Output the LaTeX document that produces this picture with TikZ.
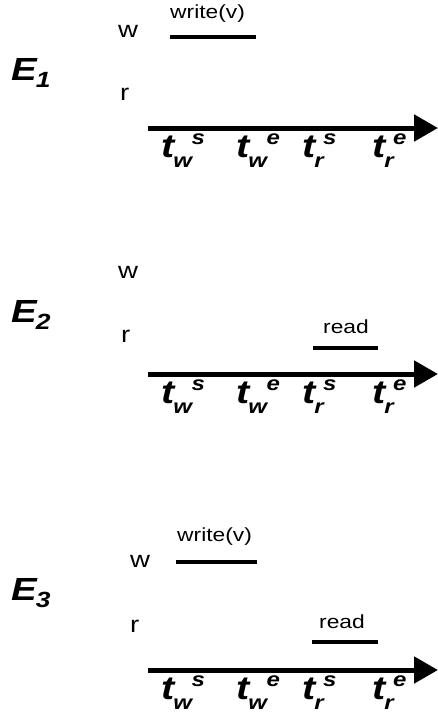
\documentclass[tikz,border=0pt]{standalone}
\usepackage{fontspec}
\setmainfont{Liberation Sans}[FakeStretch=1.2]
\usetikzlibrary{arrows.meta}
\newcommand\subfnt{\fontsize{20}{20}\selectfont\bfseries\itshape}
\newcommand\tlab[2]{t\kern-1pt\raisebox{-10pt}{\subfnt #1}\kern-0.5pt\raisebox{13pt}{\subfnt #2}}
\newcommand\elab[1]{E\kern-1pt\raisebox{-7pt}{\fontsize{22}{22}\selectfont\bfseries\itshape #1}}
\tikzset{
  proclbl/.style={inner sep=0pt, anchor=base west, font=\fontsize{23}{23}\selectfont},
  oplbl/.style={inner sep=0pt, anchor=base west, font=\fontsize{19}{19}\selectfont},
  opline/.style={line width=4pt},
  axisline/.style={line width=5pt, -{Triangle[length=24pt,width=26pt]}},
  tlbl/.style={inner sep=0pt, anchor=base west, font=\fontsize{33}{33}\selectfont\bfseries\itshape},
  elbl/.style={inner sep=0pt, anchor=base west, font=\fontsize{32}{32}\selectfont\bfseries\itshape}
}
\begin{document}
\begin{tikzpicture}[x=1pt,y=-1pt]
\useasboundingbox (0,0) rectangle (437,720);
% ---------- Panel 1 ----------
\node[elbl] (e1) at (11,80) {\elab{1}};
\node[proclbl] (w1) at (118,37) {w};
\node[proclbl] (r1) at (120,100) {r};
\node[oplbl] (wr1) at (170,18) {write(v)};
\coordinate (wl1s) at (170,37); \coordinate (wl1e) at (256,37);
\draw[opline] (wl1s) -- (wl1e);
\coordinate (ax1s) at (148,128); \coordinate (ax1e) at (438,128);
\draw[axisline] (ax1s) -- (ax1e);
\node[tlbl] (t1a) at (161,157) {\tlab{w}{s}};
\node[tlbl] (t1b) at (236,157) {\tlab{w}{e}};
\node[tlbl] (t1c) at (302,157) {\tlab{r}{s}};
\node[tlbl] (t1d) at (372,157) {\tlab{r}{e}};
% ---------- Panel 2 ----------
\node[elbl] (e2) at (11,322) {\elab{2}};
\node[proclbl] (w2) at (118,278) {w};
\node[proclbl] (r2) at (121,342) {r};
\node[oplbl] (rd2) at (323,333) {read};
\coordinate (rl2s) at (313,348); \coordinate (rl2e) at (378,348);
\draw[opline] (rl2s) -- (rl2e);
\coordinate (ax2s) at (148,374); \coordinate (ax2e) at (438,374);
\draw[axisline] (ax2s) -- (ax2e);
\node[tlbl] (t2a) at (161,403) {\tlab{w}{s}};
\node[tlbl] (t2b) at (236,403) {\tlab{w}{e}};
\node[tlbl] (t2c) at (302,403) {\tlab{r}{s}};
\node[tlbl] (t2d) at (372,403) {\tlab{r}{e}};
% ---------- Panel 3 ----------
\node[elbl] (e3) at (11,600) {\elab{3}};
\node[proclbl] (w3) at (130,567) {w};
\node[proclbl] (r3) at (130,632) {r};
\node[oplbl] (wr3) at (177,541) {write(v)};
\coordinate (wl3s) at (176,562); \coordinate (wl3e) at (257,562);
\draw[opline] (wl3s) -- (wl3e);
\node[oplbl] (rd3) at (319,628) {read};
\coordinate (rl3s) at (312,642); \coordinate (rl3e) at (378,642);
\draw[opline] (rl3s) -- (rl3e);
\coordinate (ax3s) at (148,670); \coordinate (ax3e) at (438,670);
\draw[axisline] (ax3s) -- (ax3e);
\node[tlbl] (t3a) at (161,699) {\tlab{w}{s}};
\node[tlbl] (t3b) at (236,699) {\tlab{w}{e}};
\node[tlbl] (t3c) at (302,699) {\tlab{r}{s}};
\node[tlbl] (t3d) at (372,699) {\tlab{r}{e}};
\end{tikzpicture}
\end{document}
